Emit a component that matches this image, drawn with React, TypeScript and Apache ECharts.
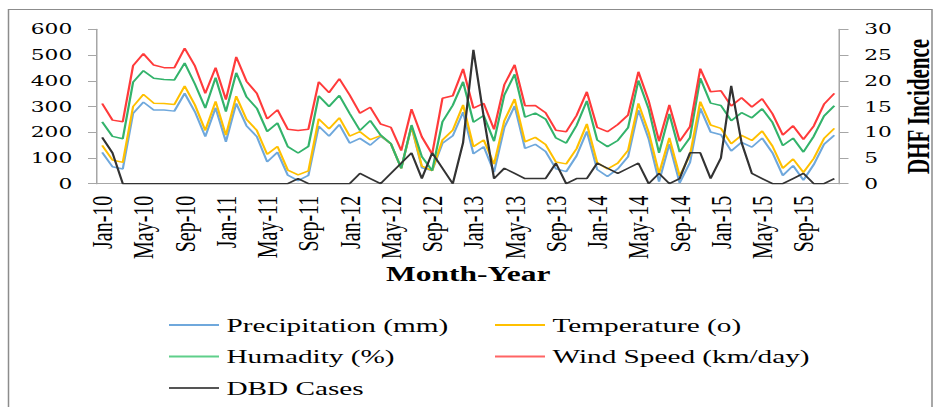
import React, { useEffect, useRef } from "react";
import * as echarts from "echarts";

const monthNames = ["Jan", "Feb", "Mar", "Apr", "May", "Jun", "Jul", "Aug", "Sep", "Oct", "Nov", "Dec"];
const years = ["10", "11", "12", "13", "14", "15"];
const categories = years.flatMap((y) => monthNames.map((m) => `${m}-${y}`));

const precipitation = [122, 66, 57, 273, 317, 286, 286, 282, 351, 279, 183, 295, 163, 312, 225, 183, 85, 122, 33, 12, 32, 224, 185, 230, 158, 176, 150, 184, 155, 60, 222, 62, 51, 157, 186, 278, 116, 144, 45, 218, 302, 137, 153, 125, 58, 47, 108, 203, 55, 28, 58, 105, 286, 173, 8, 154, 3, 82, 293, 201, 190, 127, 161, 142, 177, 120, 32, 70, 14, 74, 153, 188];
const temperature = [27, 26, 26, 27, 30, 27, 26, 26, 29, 27, 24, 25, 26, 28, 25, 24, 29, 23, 20, 22, 18, 28, 28, 26, 27, 26, 21, 3, 0, 0, 2, 6, 0, 13, 22, 28, 28, 26, 31, 27, 27, 26, 27, 27, 26, 30, 28, 29, 27, 29, 22, 25, 26, 26, 32, 24, 27, 29, 26, 27, 25, 28, 27, 26, 28, 26, 28, 26, 30, 24, 23, 27];
const humidity = [91, 92, 92, 95, 92, 97, 93, 95, 89, 81, 87, 92, 91, 91, 87, 86, 89, 91, 91, 85, 95, 89, 87, 87, 88, 5, 74, 2, 0, 0, 4, 37, 0, 71, 97, 90, 95, 95, 89, 100, 96, 96, 94, 99, 94, 81, 90, 90, 88, 87, 88, 88, 89, 91, 80, 93, 93, 68, 91, 85, 89, 90, 88, 88, 86, 92, 88, 81, 79, 86, 87, 88];
const windSpeed = [72, 63, 66, 64, 66, 51, 46, 48, 57, 70, 57, 39, 47, 62, 61, 58, 49, 51, 68, 88, 67, 55, 54, 65, 72, 67, 52, 43, 64, 69, 62, 77, 64, 91, 37, 50, 55, 47, 46, 40, 37, 44, 30, 25, 30, 44, 39, 35, 49, 58, 62, 49, 34, 32, 45, 35, 42, 43, 37, 44, 57, 57, 58, 42, 39, 34, 41, 48, 49, 40, 46, 48];
const dbdCases = [9, 6, 0, 0, 0, 0, 0, 0, 0, 0, 0, 0, 0, 0, 0, 0, 0, 0, 0, 1, 0, 0, 0, 0, 0, 2, 1, 0, 2, 4, 6, 1, 6, 3, 0, 8, 26, 13, 1, 3, 2, 1, 1, 1, 4, 0, 1, 1, 4, 3, 2, 3, 4, 0, 2, 0, 1, 6, 6, 1, 5, 19, 8, 2, 1, 0, 0, 1, 2, 0, 0, 1];

const seriesNames = ["Precipitation (mm)", "Temperature (o)", "Humadity (%)", "Wind Speed (km/day)", "DBD Cases"];
const seriesColors = ["#6fa8dc", "#ffc000", "#33b36b", "#ff3b3b", "#333333"];
const legendColors = ["#6fa8dc", "#ffc000", "#5fcf8a", "#ff6464", "#555555"];

const SX = 1.5;
const W = 952 / SX;
const H = 407;

export default function App() {
  const ref = useRef<HTMLDivElement>(null);
  useEffect(() => {
    if (!ref.current) return;
    const chart = echarts.init(ref.current, null, { renderer: "svg" });
    const serif = "Liberation Serif";
    const axisLineColor = "#a6a6a6";
    const legendText = { fontFamily: serif, fontSize: 19.5, color: "#000", lineHeight: 20 };
    const mk = (i: number, data: number[], stacked: boolean) => ({
      name: seriesNames[i],
      type: "line",
      data,
      stack: stacked ? "total" : undefined,
      yAxisIndex: stacked ? 0 : 1,
      symbol: "none",
      lineStyle: { width: 1.5, color: seriesColors[i] },
      itemStyle: { color: legendColors[i] },
      emphasis: { disabled: true },
    });
    const legendBase = {
      orient: "vertical",
      top: 315,
      padding: 0,
      icon: "rect",
      itemWidth: 50 / SX,
      itemHeight: 2,
      itemGap: 11.5,
      textStyle: legendText,
    };
    chart.setOption({
      animation: false,
      textStyle: { fontFamily: serif },
      graphic: [
        {
          type: "rect",
          shape: { x: 8.5 / SX, y: 9.5, width: (932 - 8.5) / SX, height: 420 },
          style: { fill: "none", stroke: "#8c8c8c", lineWidth: 1 },
          silent: true,
        },
      ],
      grid: { left: 97 / SX, right: W - 839 / SX, top: 29.3, bottom: H - 183.7 },
      legend: [
        { ...legendBase, data: [seriesNames[0], seriesNames[2], seriesNames[4]], left: 169 / SX },
        { ...legendBase, data: [seriesNames[1], seriesNames[3]], left: 495 / SX },
      ],
      xAxis: {
        type: "category",
        data: categories,
        boundaryGap: true,
        name: "Month-Year",
        nameLocation: "middle",
        nameGap: 80,
        nameTextStyle: { fontFamily: serif, fontSize: 21, fontWeight: "bold", color: "#000" },
        axisLine: { lineStyle: { color: axisLineColor, width: 1 } },
        axisTick: { interval: 3, length: 6, lineStyle: { color: axisLineColor } },
        axisLabel: { interval: 3, rotate: 90, margin: 12, fontFamily: serif, fontSize: 20, color: "#000" },
        splitLine: { show: false },
      },
      yAxis: [
        {
          type: "value",
          min: 0,
          max: 600,
          interval: 100,
          position: "left",
          axisLine: { show: true, lineStyle: { color: axisLineColor } },
          axisTick: { show: true, length: 6, lineStyle: { color: axisLineColor } },
          axisLabel: { margin: 16.5, fontFamily: "DejaVu Serif", fontSize: 14.5, color: "#000" },
          splitLine: { show: false },
        },
        {
          type: "value",
          min: 0,
          max: 30,
          interval: 5,
          position: "right",
          name: "DHF Incidence",
          nameLocation: "middle",
          nameRotate: 90,
          nameGap: 42,
          nameMoveOverlap: false,
          nameTextStyle: { fontFamily: serif, fontSize: 21, fontWeight: "bold", color: "#000" },
          axisLine: { show: true, lineStyle: { color: axisLineColor } },
          axisTick: { show: true, length: 6, lineStyle: { color: axisLineColor } },
          axisLabel: { margin: 16.5, fontFamily: "DejaVu Serif", fontSize: 14.5, color: "#000" },
          splitLine: { show: false },
        },
      ],
      series: [
        mk(0, precipitation, true),
        mk(1, temperature, true),
        mk(2, humidity, true),
        mk(3, windSpeed, true),
        mk(4, dbdCases, false),
      ],
    });
    return () => chart.dispose();
  }, []);
  return (
    <div style={{ position: "fixed", left: 0, top: 0, width: 952, height: H, overflow: "hidden", background: "#fff" }}>
      <div
        ref={ref}
        style={{ width: W, height: H, transform: `scaleX(${SX})`, transformOrigin: "0 0" }}
      />
    </div>
  );
}
